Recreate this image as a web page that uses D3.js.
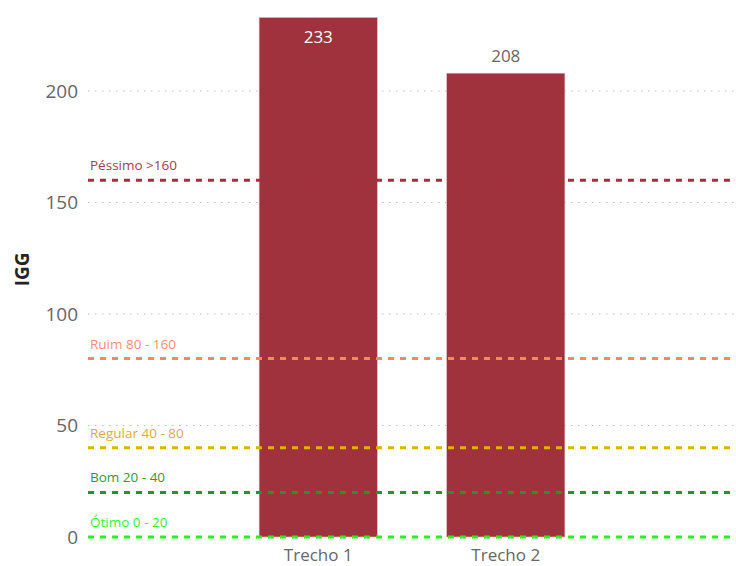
<!DOCTYPE html>
<html>
<head>
<meta charset="utf-8">
<script src="https://cdn.jsdelivr.net/npm/d3@7"></script>
<style>
  body { margin: 0; background: #fff; }
  svg { display: block; font-family: "Open Sans", "Noto Sans", sans-serif; }
</style>
</head>
<body>
<div id="chart"></div>
<script>
// ---- data ----
const categories = ["Trecho 1", "Trecho 2"];
const values = [233, 208];
const yTicks = [0, 50, 100, 150, 200];

// reference bands (value, label, line colour, label colour)
const refValues = [160, 80, 40, 20, 0];
const refLabels = ["Péssimo >160", "Ruim 80 - 160", "Regular 40 - 80", "Bom 20 - 40", "Ótimo 0 - 20"];
const refColors = ["#A4303C", "#F08A60", "#DDB200", "#22962A", "#22F522"];
const refLabelColors = ["#A04050", "#F29078", "#D9B030", "#2E9A3A", "#33F533"];

// ---- layout ----
const width = 736, height = 566;
const plotLeft = 88, plotRight = 736;

const svg = d3.select("#chart").append("svg")
  .attr("width", width)
  .attr("height", height);

const y = d3.scaleLinear().domain([0, 200]).range([537, 91]);
const x = d3.scaleBand()
  .domain(categories)
  .range([224.5, 599.5])
  .paddingInner(0.369)
  .paddingOuter(0.1845);

// gridlines (dotted)
svg.append("g")
  .selectAll("line")
  .data(yTicks.filter(d => d > 0))
  .join("line")
  .attr("x1", plotLeft)
  .attr("x2", plotRight)
  .attr("y1", d => y(d))
  .attr("y2", d => y(d))
  .attr("stroke", "#bdbdbd")
  .attr("stroke-width", 1.2)
  .attr("stroke-dasharray", "1.5 5.5");

// y tick labels
svg.append("g")
  .selectAll("text")
  .data(yTicks)
  .join("text")
  .attr("x", 78)
  .attr("y", d => y(d))
  .attr("dy", "0.35em")
  .attr("text-anchor", "end")
  .attr("fill", "#666666")
  .style("font-size", "19px")
  .text(d => d);

// y axis title
svg.append("text")
  .attr("transform", `translate(29, ${y(120)}) rotate(-90)`)
  .attr("text-anchor", "middle")
  .attr("fill", "#252423")
  .style("font-size", "19px")
  .style("font-weight", "bold")
  .text("IGG");

// bars
svg.append("g")
  .selectAll("rect")
  .data(values)
  .join("rect")
  .attr("x", (d, i) => x(categories[i]))
  .attr("width", x.bandwidth())
  .attr("y", d => y(d))
  .attr("height", d => y(0) - y(d))
  .attr("fill", "#A0323D")
  .attr("stroke", "#e9c4c8")
  .attr("stroke-width", 0.6);

// value labels: inside when near top, otherwise above
svg.append("g")
  .selectAll("text")
  .data(values)
  .join("text")
  .attr("x", (d, i) => x(categories[i]) + x.bandwidth() / 2)
  .attr("y", d => d > 220 ? y(d) + 26 : y(d) - 11)
  .attr("text-anchor", "middle")
  .attr("fill", d => d > 220 ? "#ffffff" : "#666666")
  .style("font-size", "17px")
  .text(d => d);

// reference lines on top of bars
const refs = svg.append("g");
refs.selectAll("line")
  .data(refValues)
  .join("line")
  .attr("x1", plotLeft)
  .attr("x2", plotRight)
  .attr("y1", d => y(d))
  .attr("y2", d => y(d))
  .attr("stroke", (d, i) => refColors[i])
  .attr("stroke-width", 3)
  .attr("stroke-dasharray", "6 6");

refs.selectAll("text")
  .data(refValues)
  .join("text")
  .attr("x", 90)
  .attr("y", d => y(d) - 10)
  .attr("fill", (d, i) => refLabelColors[i])
  .style("font-size", "13.5px")
  .text((d, i) => refLabels[i]);

// x labels
svg.append("g")
  .selectAll("text")
  .data(categories)
  .join("text")
  .attr("x", d => x(d) + x.bandwidth() / 2)
  .attr("y", 561)
  .attr("text-anchor", "middle")
  .attr("fill", "#666666")
  .style("font-size", "17px")
  .text(d => d);
</script>
</body>
</html>
